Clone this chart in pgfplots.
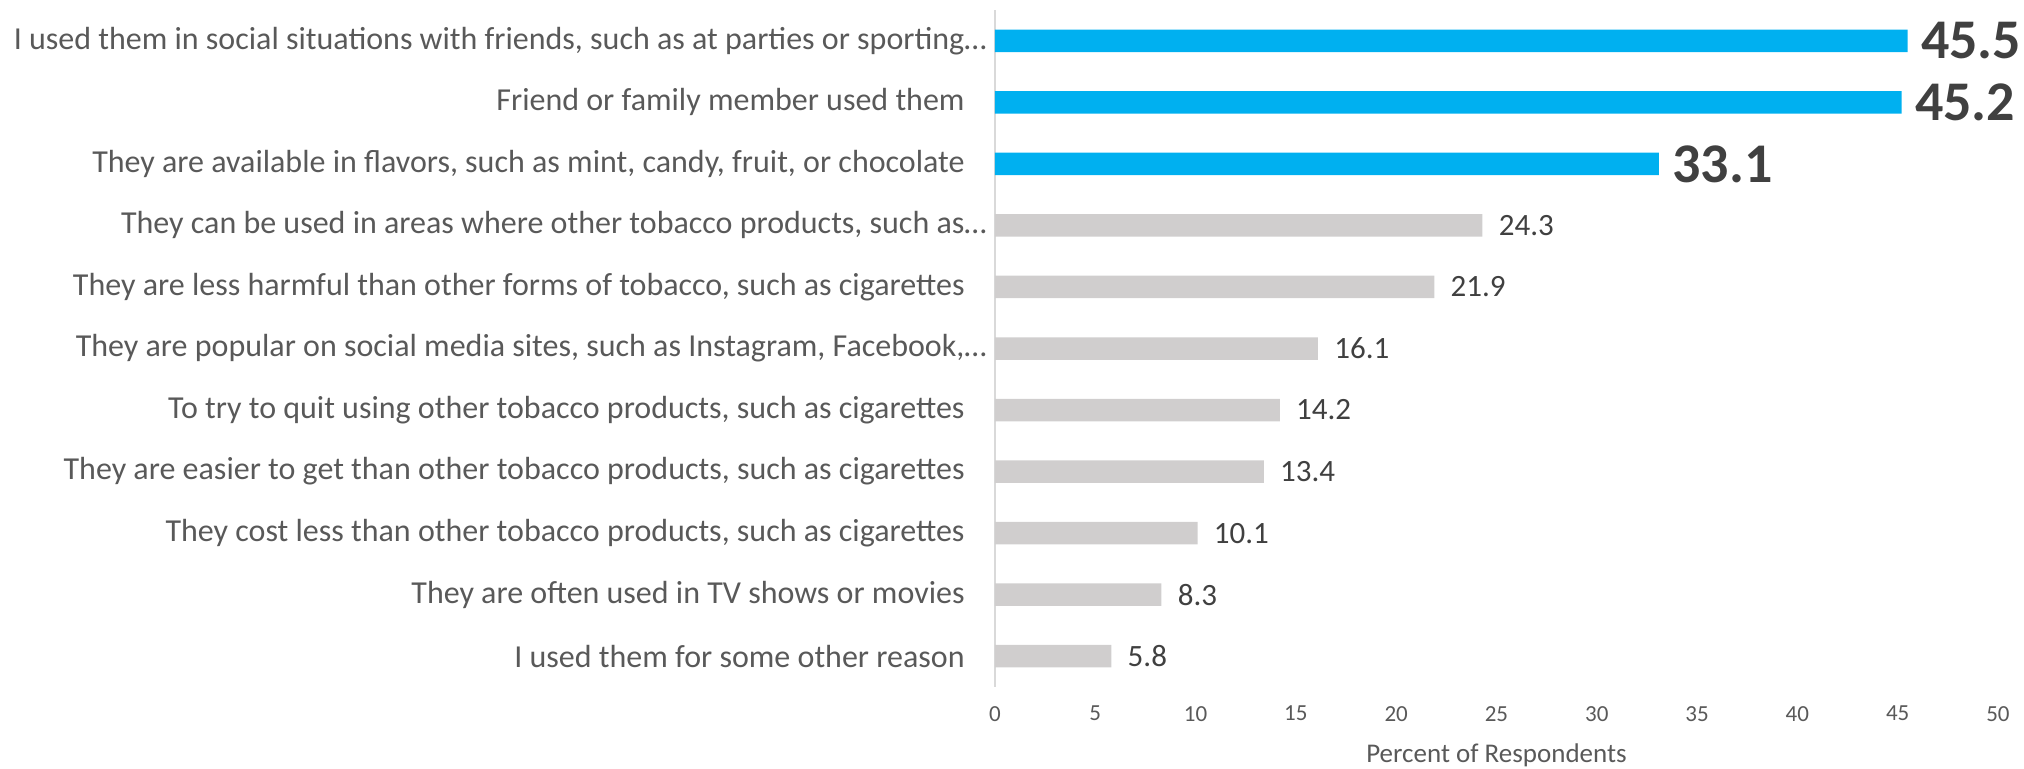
\documentclass[border=0pt]{standalone}
\usepackage{pgfplots}
\pgfplotsset{compat=1.18}
\usepackage{fontspec}
\setmainfont{Carlito}
\definecolor{barblue}{HTML}{00B0F0}
\definecolor{bargray}{HTML}{D0CECE}
\definecolor{txtgray}{HTML}{595959}
\definecolor{lblgray}{HTML}{404040}
\definecolor{axgray}{HTML}{D9D9D9}
\newcommand{\tr}{\kern11pt}
\begin{document}
\begin{tikzpicture}
\begin{axis}[
  name=ax,
  scale only axis,
  width=501.5pt, height=338.5pt,
  xmin=0, xmax=50, ymin=-0.5, ymax=10.5,
  y dir=reverse,
  xbar, bar width=11.25pt,
  /pgf/bar shift=0pt,
  axis lines=left,
  x axis line style={draw=none},
  y axis line style={draw=axgray, line width=0.8pt, -},
  major tick length=0pt,
  xtick={0,5,...,50},
  ytick={0,...,10},
  yticklabels={
    {I used them in social situations with friends, such as at parties or sporting…},
    {Friend or family member used them\tr},
    {They are available in flavors, such as mint, candy, fruit, or chocolate\tr},
    {They can be used in areas where other tobacco products, such as…},
    {They are less harmful than other forms of tobacco, such as cigarettes\tr},
    {They are popular on social media sites, such as Instagram, Facebook,…},
    {To try to quit using other tobacco products, such as cigarettes\tr},
    {They are easier to get than other tobacco products, such as cigarettes\tr},
    {They cost less than other tobacco products, such as cigarettes\tr},
    {They are often used in TV shows or movies\tr},
    {I used them for some other reason\tr}},
  yticklabel style={font=\fontsize{16}{19}\selectfont, text=txtgray, inner sep=0pt, xshift=-4pt},
  xticklabel style={font=\fontsize{11.5}{13}\selectfont, text=txtgray, yshift=-6pt},
  /pgf/number format/assume math mode=true,
  xlabel={Percent of Respondents},
  xlabel style={font=\fontsize{13.5}{16}\selectfont, text=txtgray, at={(axis description cs:0.5,-0.101)}, anchor=center},
  nodes near coords,
  point meta=explicit,
  nodes near coords align={horizontal},
]
\addplot[fill=barblue, draw=none,
  nodes near coords style={font=\bfseries\fontsize{28}{32}\selectfont, text=lblgray, anchor=west, inner sep=0pt, xshift=6.5pt}]
  coordinates {(45.5,0) [45.5] (45.2,1) [45.2] (33.1,2) [33.1]};
\addplot[fill=bargray, draw=none,
  nodes near coords style={font=\fontsize{15.5}{18}\selectfont, text=lblgray, anchor=west, inner sep=0pt, xshift=8pt}]
  coordinates {(24.3,3) [24.3] (21.9,4) [21.9] (16.1,5) [16.1] (14.2,6) [14.2] (13.4,7) [13.4] (10.1,8) [10.1] (8.3,9) [8.3] (5.8,10) [5.8]};
\end{axis}
\pgfresetboundingbox
\path[use as bounding box] ([xshift=-497.5pt,yshift=-40.5pt]ax.south west) rectangle ([xshift=514.5pt,yshift=343.5pt]ax.south west);
\end{tikzpicture}
\end{document}
